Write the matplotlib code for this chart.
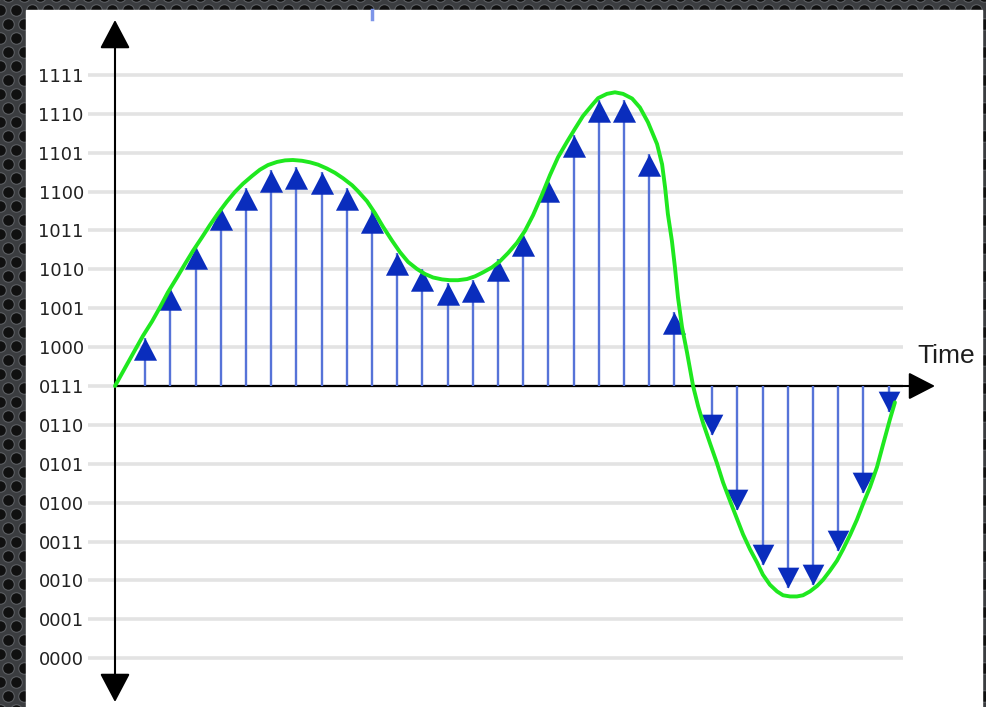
import numpy as np
import matplotlib
matplotlib.use("Agg")
import matplotlib.pyplot as plt
from matplotlib.path import Path
from matplotlib.patches import Rectangle

# quantisation levels (y axis)
level_values = list(range(16))
level_labels = ['0000', '0001', '0010', '0011', '0100', '0101', '0110', '0111',
                '1000', '1001', '1010', '1011', '1100', '1101', '1110', '1111']
baseline = 7  # 0111

# sampled values, arrows pointing up (above 0111)
up_t = [1.2, 2.2, 3.2, 4.2, 5.2, 6.2, 7.2, 8.2, 9.2, 10.2, 11.2,
        12.2, 13.2, 14.2, 15.2, 16.2, 17.2, 18.2, 19.2, 20.2, 21.2, 22.2]
up_val = [8.24, 9.51, 10.58, 11.57, 12.08, 12.54, 12.63, 12.49, 12.08, 11.49, 10.43,
          10.02, 9.64, 9.72, 10.27, 10.91, 12.30, 13.45, 14.36, 14.36, 12.96, 8.90]

# sampled values, arrows pointing down (below 0111)
down_t = [23.7, 24.7, 25.7, 26.7, 27.7, 28.7, 29.7, 30.7]
down_val = [5.74, 3.82, 2.41, 1.80, 1.88, 2.77, 4.24, 6.32]

# analog signal (green)
sig_t = [0.00, 0.48, 0.79, 1.11, 1.47, 1.79, 2.10, 2.46, 2.78, 3.10, 3.45, 3.77,
         4.09, 4.44, 4.76, 5.08, 5.44, 5.75, 6.07, 6.43, 6.75, 7.06, 7.42, 7.74,
         8.06, 8.41, 8.73, 9.05, 9.41, 9.64, 10.00, 10.32, 10.64, 10.99, 11.31, 11.63,
         11.98, 12.30, 12.62, 12.98, 13.29, 13.61, 13.97, 14.29, 14.60, 14.96, 15.28,
         15.60, 15.95, 16.27, 16.59, 16.94, 17.26, 17.58, 17.94, 18.25, 18.57, 18.93,
         19.17, 19.52, 19.84, 20.16, 20.52, 20.83, 21.15, 21.51, 21.71, 21.83, 21.94,
         22.10, 22.22, 22.34, 22.50, 22.70, 22.94, 23.14, 23.33, 23.61, 23.89, 24.13,
         24.41, 24.68, 24.92, 25.20, 25.48, 25.71, 25.99, 26.27, 26.51, 26.79, 27.06,
         27.30, 27.58, 27.86, 28.10, 28.37, 28.65, 28.89, 29.17, 29.44, 29.68, 29.96,
         30.24, 30.48, 30.75, 30.95]
sig_val = [7.00, 7.56, 7.92, 8.29, 8.66, 9.03, 9.41, 9.79, 10.14, 10.48, 10.82, 11.14,
           11.44, 11.74, 11.99, 12.20, 12.40, 12.56, 12.68, 12.76, 12.80, 12.81, 12.79, 12.75,
           12.69, 12.59, 12.48, 12.34, 12.16, 12.01, 11.75, 11.44, 11.09, 10.74, 10.44, 10.19,
           10.01, 9.88, 9.79, 9.74, 9.72, 9.72, 9.75, 9.82, 9.92, 10.05, 10.21,
           10.42, 10.68, 10.99, 11.39, 11.91, 12.42, 12.88, 13.28, 13.61, 13.94, 14.22,
           14.40, 14.51, 14.55, 14.51, 14.39, 14.16, 13.78, 13.22, 12.70, 12.10, 11.42,
           10.73, 10.05, 9.28, 8.52, 7.86, 7.00, 6.48, 6.06, 5.53, 5.01, 4.52,
           4.04, 3.59, 3.19, 2.80, 2.46, 2.15, 1.89, 1.72, 1.62, 1.59, 1.59,
           1.62, 1.72, 1.86, 2.02, 2.25, 2.51, 2.80, 3.17, 3.56, 3.96, 4.40,
           4.92, 5.50, 6.14, 6.58]

W, H = 987, 707
fig = plt.figure(figsize=(W / 100, H / 100), dpi=100)

# --- backdrop: perforated metal with a white panel ---
bg = fig.add_axes([0, 0, 1, 1], zorder=0)
bg.set_xlim(0, W)
bg.set_ylim(H, 0)
bg.axis('off')
bg.add_patch(Rectangle((0, 0), W, H, color='#3b3d40'))
hx, hy = [], []
for r, yy in enumerate(np.arange(-4, H + 16, 14)):
    off = 8 if r % 2 else 0
    for xx in np.arange(-8 + off, W + 16, 16):
        hx.append(xx)
        hy.append(yy)
bg.scatter(hx, hy, s=70, c='#101010', edgecolors='#5c5f63', linewidths=0.8)
bg.add_patch(Rectangle((26, 10), 956, H, color='white', zorder=3))
bg.plot([372, 372], [10, 19], color='#7d95e8', lw=2.5, zorder=4)

# --- chart ---
ax = fig.add_axes([88 / W, 0, (903 - 88) / W, 1], zorder=1)
ax.patch.set_alpha(0)
ax.set_xlim(-1.0714, 31.27)
ax.set_ylim(-1.252, 16.923)
for s in ax.spines.values():
    s.set_visible(False)
ax.set_xticks([])
ax.set_yticks(level_values, level_labels)
ax.tick_params(axis='y', length=0, pad=3, labelsize=13, labelcolor='#222222')
ax.grid(axis='y', color='#e3e3e3', lw=2.6, zorder=0)
ax.set_axisbelow(True)

# axes with arrow heads
ax.annotate('', xy=(0, 1 - 20 / H), xycoords=ax.get_xaxis_transform(),
            xytext=(0, 1 - 702 / H), textcoords=ax.get_xaxis_transform(),
            arrowprops=dict(arrowstyle='<|-|>,head_length=1.8,head_width=0.95',
                            mutation_scale=10, color='black', lw=1.5,
                            shrinkA=0, shrinkB=0),
            annotation_clip=False, zorder=2)
ax.annotate('', xy=((935 - 88) / (903 - 88), baseline), xycoords=ax.get_yaxis_transform(),
            xytext=(0, baseline), textcoords='data',
            arrowprops=dict(arrowstyle='-|>,head_length=1.65,head_width=0.85',
                            mutation_scale=10, color='black', lw=1.5,
                            shrinkA=0, shrinkB=0),
            annotation_clip=False, zorder=2)

# stems
stem_col = '#5673d8'
ax.vlines(up_t, baseline, up_val, color=stem_col, lw=1.7, zorder=3)
ax.vlines(down_t, baseline, down_val, color=stem_col, lw=1.7, zorder=3)

# arrow heads with the tip on the sample value
tri_up = Path([(0, 0), (-0.52, -1), (0.52, -1), (0, 0)],
              [Path.MOVETO, Path.LINETO, Path.LINETO, Path.CLOSEPOLY])
tri_down = Path([(0, 0), (-0.52, 1), (0.52, 1), (0, 0)],
                [Path.MOVETO, Path.LINETO, Path.LINETO, Path.CLOSEPOLY])
head_col = '#0a2dbd'
ax.plot(up_t, up_val, ls='none', marker=tri_up, ms=32, color=head_col,
        mec=head_col, mew=0, zorder=4)
ax.plot(down_t, down_val, ls='none', marker=tri_down, ms=30, color=head_col,
        mec=head_col, mew=0, zorder=4)

# analog signal
ax.plot(sig_t, sig_val, color='#1fe81f', lw=2.8, solid_capstyle='round',
        solid_joinstyle='round', zorder=5)

fig.text(917 / W, 1 - 363 / H, 'Time', fontsize=19, family='Liberation Sans',
         color='#1e1e1e', ha='left', va='baseline', zorder=6)

fig.savefig('out.png', dpi=100)
